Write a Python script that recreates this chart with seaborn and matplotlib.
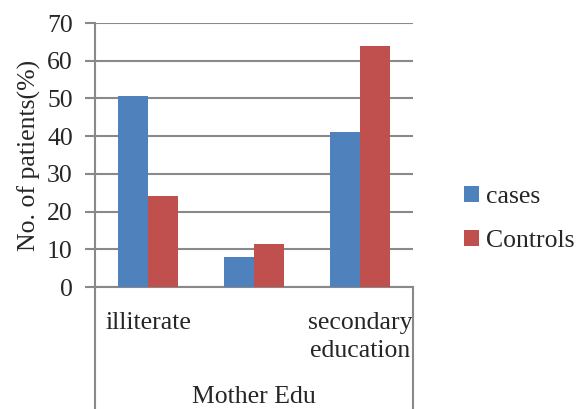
import matplotlib
matplotlib.use("Agg")
import matplotlib.pyplot as plt
import seaborn as sns
import pandas as pd

# Mother's education level vs. share of patients
categories = ["illiterate", "", "secondary\neducation"]
cases = [50.6, 7.9, 41.2]
controls = [24.2, 11.5, 64.0]
series_names = ["cases", "Controls"]
y_ticks = [0, 10, 20, 30, 40, 50, 60, 70]

df = pd.DataFrame({
    "level": categories * 2,
    "value": cases + controls,
    "group": [series_names[0]] * len(categories) + [series_names[1]] * len(categories),
})

sns.set_theme(style="white")
plt.rcParams["font.family"] = ["Liberation Serif", "DejaVu Serif"]

grid_color = "#898989"
fs = 18.5

fig = plt.figure(figsize=(5.76, 4.09), dpi=100)
ax = fig.add_axes([95 / 576, 1 - 287 / 409, (413 - 95) / 576, (287 - 23) / 409])

sns.barplot(data=df, x="level", y="value", hue="group", order=categories,
            hue_order=series_names, palette=["#4F81BD", "#C0504D"],
            saturation=1, width=0.57, gap=0, linewidth=0, ax=ax, zorder=3)

ax.set_ylim(0, 70)
ax.set_yticks(y_ticks)
ax.set_xlim(-0.5, 2.5)
ax.yaxis.grid(True, color=grid_color, linewidth=1.5, zorder=0)
ax.set_axisbelow(True)

for side in ["top", "right"]:
    ax.spines[side].set_visible(False)
ax.spines["left"].set_color(grid_color)
ax.spines["left"].set_linewidth(1.5)
ax.spines["bottom"].set_color(grid_color)
ax.spines["bottom"].set_linewidth(1.5)

ax.tick_params(axis="y", which="major", length=7, width=1.5, color=grid_color,
               pad=9, labelsize=fs, left=True)
ax.tick_params(axis="x", length=0, pad=18, labelsize=fs)
for lbl in ax.get_xticklabels():
    lbl.set_verticalalignment("top")
    lbl.set_linespacing(1.38)

ax.set_xlabel("")
ax.set_ylabel("No. of patients(%)", fontsize=fs, labelpad=4)

# Category box lines below the plot area
box_bottom = -(409 - 287) / (287 - 23)
ax.plot([0, 0], [0, box_bottom], transform=ax.transAxes, color=grid_color,
        linewidth=1.5, clip_on=False)
ax.plot([1, 1], [0, box_bottom], transform=ax.transAxes, color=grid_color,
        linewidth=1.5, clip_on=False)
fig.text(254 / 576, 1 - 397 / 409, "Mother Edu", ha="center", va="center", fontsize=fs)

handles, labels = ax.get_legend_handles_labels()
ax.legend(handles, labels, loc="center left", bbox_to_anchor=(464 / 576, 1 - 219 / 409),
          bbox_transform=fig.transFigure, frameon=False, fontsize=fs,
          borderaxespad=0, borderpad=0,
          handlelength=0.6, handleheight=0.6, handletextpad=0.25, labelspacing=0.85)

fig.savefig("out.png", dpi=100)
